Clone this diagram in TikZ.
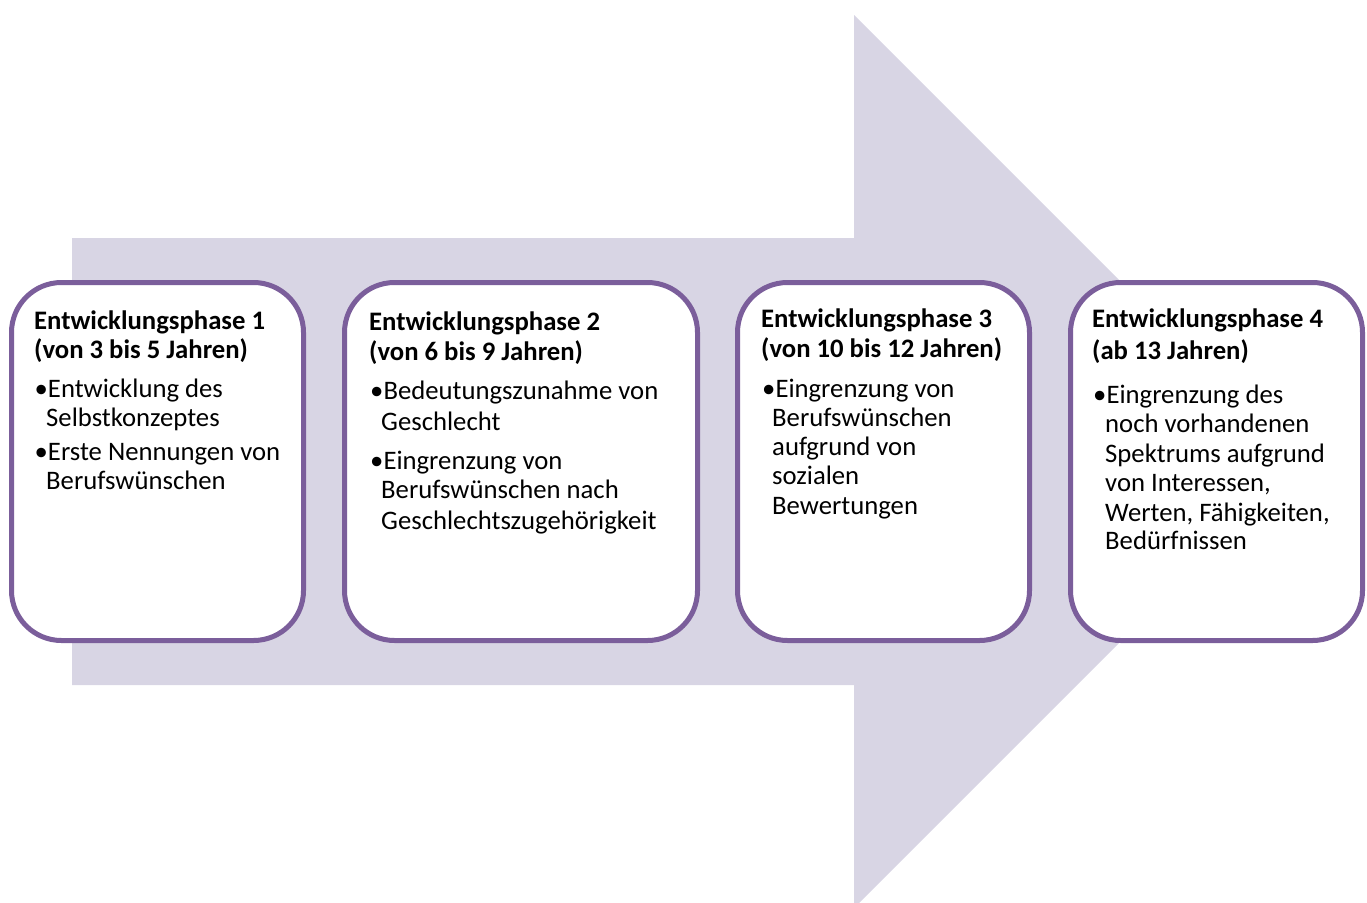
\documentclass[tikz,border=0pt]{standalone}
\usepackage{fontspec}
\setmainfont{Carlito}
\definecolor{arrowfill}{RGB}{216,213,228}
\definecolor{boxline}{RGB}{123,94,155}
\begin{document}
\begin{tikzpicture}[x=1pt,y=-1pt,
  phasebox/.style={draw=boxline,line width=5pt,fill=white,rounded corners=50pt,
    rectangle,inner sep=0pt,minimum height=358pt},
  title/.style={anchor=base west,inner sep=0pt,font=\fontsize{26.7}{29}\selectfont\bfseries},
  body/.style={anchor=base west,inner sep=0pt,font=\fontsize{26.7}{29}\selectfont}]
\clip (0,0) rectangle (1367,902);
\fill[arrowfill] (72,238) -- (854,238) -- (854,15) -- (1300.5,461.5) -- (854,908) -- (854,685) -- (72,685) -- cycle;
% boxes
\node[phasebox,minimum width=292pt] (b1) at (157.5,461.5) {};
\node[phasebox,minimum width=353pt] (b2) at (521,461.5) {};
\node[phasebox,minimum width=292pt] (b3) at (883.5,461.5) {};
\node[phasebox,minimum width=292pt] (b4) at (1216.5,461.5) {};
% box 1
\node[title] (t1a) at (34,329) {Entwicklungsphase 1};
\node[title] (t1b) at (34,358) {(von 3 bis 5 Jahren)};
\node[body] (l1a) at (34.5,397) {•Entwicklung des};
\node[body] (l1b) at (46,426) {Selbstkonzeptes};
\node[body] (l1c) at (34.5,460) {•Erste Nennungen von};
\node[body] (l1d) at (46,489) {Berufswünschen};
% box 2
\node[title] (t2a) at (369,330.5) {Entwicklungsphase 2};
\node[title] (t2b) at (369,360) {(von 6 bis 9 Jahren)};
\node[body] (l2a) at (370,399) {•Bedeutungszunahme von};
\node[body] (l2b) at (381,430.5) {Geschlecht};
\node[body] (l2c) at (370,469) {•Eingrenzung von};
\node[body] (l2d) at (381,498) {Berufswünschen nach};
\node[body] (l2e) at (381,529) {Geschlechtszugehörigkeit};
% box 3
\node[title] (t3a) at (761,327) {Entwicklungsphase 3};
\node[title] (t3b) at (761,357) {(von 10 bis 12 Jahren)};
\node[body] (l3a) at (762,397) {•Eingrenzung von};
\node[body] (l3b) at (772,426) {Berufswünschen};
\node[body] (l3c) at (772,455) {aufgrund von};
\node[body] (l3d) at (772,484) {sozialen};
\node[body] (l3e) at (772,514) {Bewertungen};
% box 4
\node[title] (t4a) at (1092,327) {Entwicklungsphase 4};
\node[title] (t4b) at (1092,359) {(ab 13 Jahren)};
\node[body] (l4a) at (1093,403) {•Eingrenzung des};
\node[body] (l4b) at (1105,432.5) {noch vorhandenen};
\node[body] (l4c) at (1105,462) {Spektrums aufgrund};
\node[body] (l4d) at (1105,491.5) {von Interessen,};
\node[body] (l4e) at (1105,521) {Werten, Fähigkeiten,};
\node[body] (l4f) at (1105,549) {Bedürfnissen};
\end{tikzpicture}
\end{document}
